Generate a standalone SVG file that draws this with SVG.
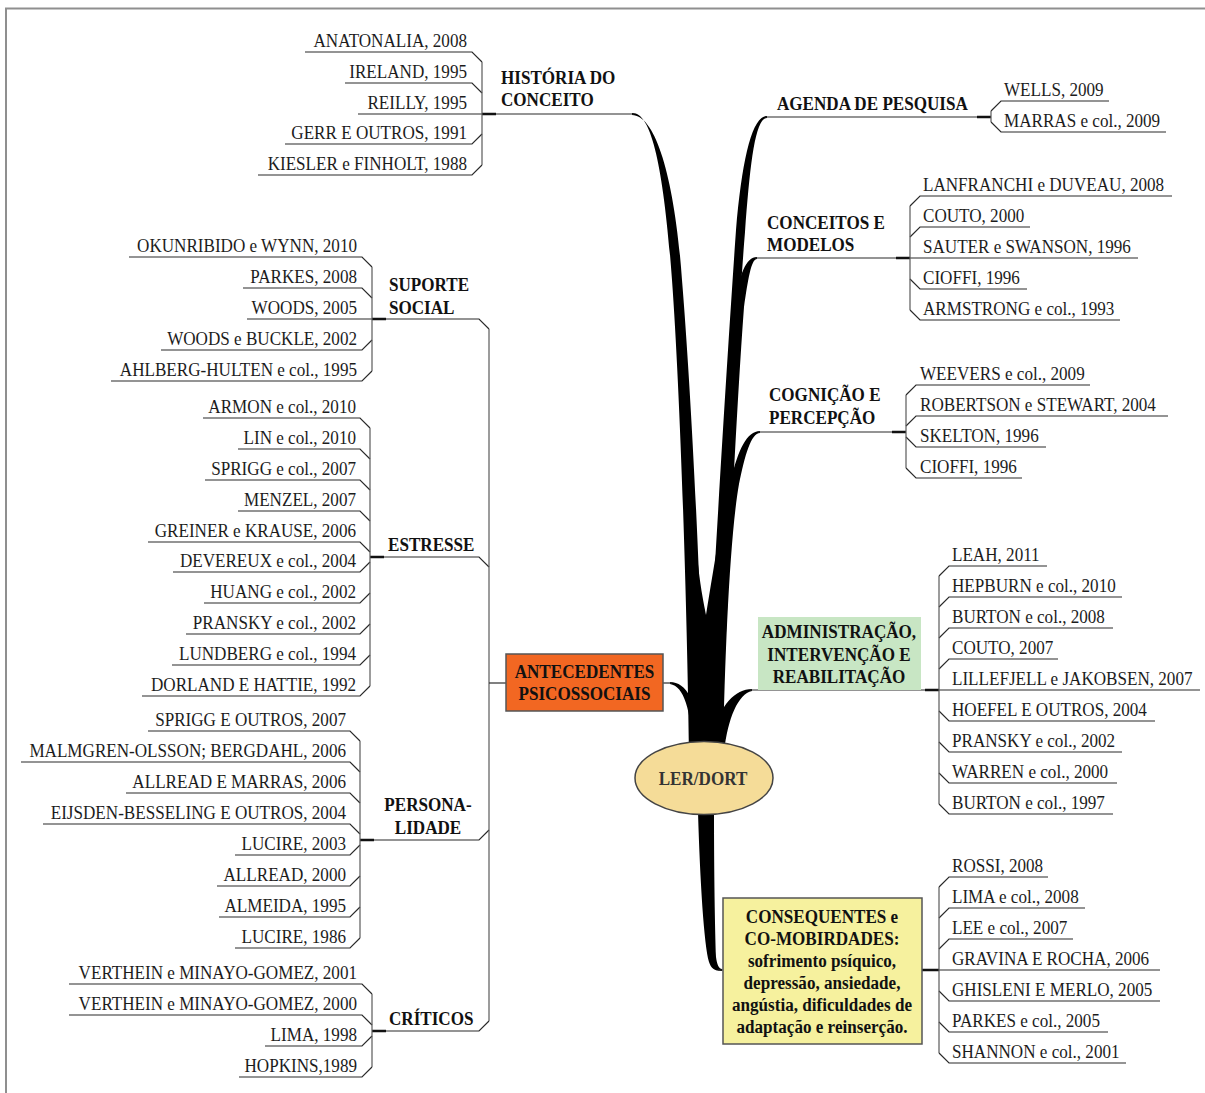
<svg xmlns="http://www.w3.org/2000/svg" width="1205" height="1093" viewBox="0 0 1205 1093">
<style>
text{font-family:"Liberation Serif","Times New Roman",serif;font-size:19px;fill:#1c1c1c;transform-box:fill-box}
.r{text-anchor:end;transform-origin:right center;transform:scaleX(.9)}
.l{text-anchor:start;transform-origin:left center;transform:scaleX(.9)}
.m{text-anchor:middle;transform-origin:center;transform:scaleX(.9)}
.b{font-weight:bold;fill:#111}
.ln{fill:none;stroke:#2a2a2a;stroke-width:1.2}
.br{fill:none;stroke:#5a5a5a;stroke-width:1.2}
.hv{fill:none;stroke:#111;stroke-width:2.4}
.tr{fill:#000}
.frame{fill:none;stroke:#8f8f8f;stroke-width:2}
</style>
<rect x="0" y="0" width="1205" height="1093" fill="#fff"/>
<path class="frame" d="M6,1093V8.5H1205"/>

<g id="connectors">
  <!-- tree branches -->
  <path class="tr" d="M632,113 C652,112 664,170 672,280 C680,390 687,600 689,752 L704,752 C702,600 691,390 682,280 C675,180 656,115 632,115 Z"/>
  <path class="tr" d="M767,116 C752,116 742,160 736,230 C729,330 712,600 705,752 L718,752 C723,600 737,330 745,232 C750,165 755,118 767,118 Z"/>
  <path class="tr" d="M757,257 C746,257 739,275 735,305 C728,400 716,620 710,752 L721,752 C726,620 737,400 744,307 C748,280 751,259 757,259 Z"/>
  <path class="tr" d="M760,431 C747,431 738,450 731,480 C722,530 716,650 713,752 L723,752 C725,650 730,535 739,484 C745,455 751,433 760,433 Z"/>
  <path class="tr" d="M691,752 L691,670 C692,630 694,600 697,555 C700,585 703,600 706,615 C710,590 715,560 720,530 C722,600 723,680 722,752 Z"/>
  <path class="tr" d="M752,689 C735,689 720,705 713,735 L712,752 L724,752 C728,718 738,694 752,691 Z"/>
  <path class="tr" d="M670,682 C686,682 698,700 703,752 L693,752 C691,710 684,686 670,684 Z"/>
  <path class="tr" d="M698,812 C700,880 704,945 709,962 C711,968 714,971 722,971 L722,969 C719,969 717,965 716,957 C715,930 714,870 714,812 Z"/>

  <!-- main topic lines -->
  <path class="ln" d="M482,114H634"/>
  <path class="ln" d="M765,117H991"/>
  <path class="ln" d="M755,258H910"/>
  <path class="ln" d="M758,432H906"/>
  <path class="ln" d="M750,690H939"/>
  <path class="ln" d="M663,683H672"/>
  <path class="ln" d="M718,970H723M922,970H939"/>
  <path class="hv" d="M482,114H496M977,117H991M896,258H910M892,432H906M925,690H939M922,970H939"/>

  <!-- left big bracket -->
  <path class="ln" d="M372,319H479L489,329"/>
  <path class="ln" d="M370,557H479L489,567"/>
  <path class="ln" d="M360,840H479L489,830"/>
  <path class="ln" d="M372,1031H479L489,1021"/>
  <path class="hv" d="M372,319H386M370,557H384M360,840H374M372,1031H386"/>
  <path class="br" d="M489,329V1021"/>
  <path class="ln" d="M489,683H506"/>

  <!-- HISTÓRIA -->
  <path class="ln" d="M305,52H472L482,62M345,83H472L482,93M358,114H482M285,144H472L482,134M258,175H472L482,165"/>
  <path class="br" d="M482,62V165"/>
  <!-- SUPORTE -->
  <path class="ln" d="M129,257H362L372,267M243,288H362L372,298M247,319H372M161,350H362L372,340M111,381H362L372,371"/>
  <path class="br" d="M372,267V371"/>
  <!-- ESTRESSE -->
  <path class="ln" d="M203,418H360L370,428M238,449H360L370,459M205,480H360L370,490M238,511H360L370,521M148,542H360L370,552M173,572H360L370,562M204,603H360L370,593M186,634H360L370,624M172,665H360L370,655M142,696H360L370,686"/>
  <path class="br" d="M370,428V686"/>
  <!-- PERSONALIDADE -->
  <path class="ln" d="M148,731H350L360,741M21,762H350L360,772M126,793H350L360,803M43,824H350L360,834M235,855H350L360,845M217,886H350L360,876M219,917H350L360,907M235,948H350L360,938"/>
  <path class="br" d="M360,741V938"/>
  <!-- CRÍTICOS -->
  <path class="ln" d="M69,984H362L372,994M69,1015H362L372,1025M265,1046H362L372,1036M239,1077H362L372,1067"/>
  <path class="br" d="M372,994V1067"/>
  <!-- AGENDA -->
  <path class="ln" d="M1109,101H1001L991,111M1166,132H1001L991,122"/>
  <path class="br" d="M991,111V122"/>
  <!-- CONCEITOS -->
  <path class="ln" d="M1172,196H920L910,206M1030,227H920L910,237M1138,258H910M1027,289H920L910,279M1120,320H920L910,310"/>
  <path class="br" d="M910,206V310"/>
  <!-- COGNIÇÃO -->
  <path class="ln" d="M1090,385H916L906,395M1168,416H916L906,426M1046,447H916L906,437M1022,478H916L906,468"/>
  <path class="br" d="M906,395V468"/>
  <!-- ADMINISTRAÇÃO -->
  <path class="ln" d="M1047,566H949L939,576M1122,597H949L939,607M1113,628H949L939,638M1058,659H949L939,669M1200,690H939M1155,721H949L939,711M1122,752H949L939,742M1117,783H949L939,773M1113,814H949L939,804"/>
  <path class="br" d="M939,576V804"/>
  <!-- CONSEQUENTES -->
  <path class="ln" d="M1048,877H949L939,887M1085,908H949L939,918M1073,939H949L939,949M1160,970H939M1160,1001H949L939,991M1108,1032H949L939,1022M1126,1063H949L939,1053"/>
  <path class="br" d="M939,887V1053"/>
</g>

<g id="root">
  <ellipse cx="704" cy="778" rx="69" ry="36.5" fill="#f5dc98" stroke="#444" stroke-width="1.5"/>
  <text class="m b" x="703" y="785" style="fill:#333">LER/DORT</text>
</g>

<g id="t-historia"><text class="l b" x="501" y="84">HISTÓRIA DO</text><text class="l b" x="501" y="106">CONCEITO</text></g>
<g id="t-suporte"><text class="l b" x="389" y="291">SUPORTE</text><text class="l b" x="389" y="314">SOCIAL</text></g>
<g id="t-estresse"><text class="l b" x="388" y="551">ESTRESSE</text></g>
<g id="t-personalidade"><text class="m b" x="428" y="811">PERSONA-</text><text class="m b" x="428" y="834">LIDADE</text></g>
<g id="t-criticos"><text class="l b" x="389" y="1025">CRÍTICOS</text></g>
<g id="t-agenda"><text class="l b" x="777" y="110">AGENDA DE PESQUISA</text></g>
<g id="t-conceitos"><text class="l b" x="767" y="229">CONCEITOS E</text><text class="l b" x="767" y="251">MODELOS</text></g>
<g id="t-cognicao"><text class="l b" x="769" y="401">COGNIÇÃO E</text><text class="l b" x="769" y="424">PERCEPÇÃO</text></g>

<g id="t-antecedentes">
  <rect x="506" y="654" width="157" height="57" fill="#f26722" stroke="#555" stroke-width="1.5"/>
  <text class="m b" x="584.5" y="678">ANTECEDENTES</text>
  <text class="m b" x="584.5" y="700">PSICOSSOCIAIS</text>
</g>
<g id="t-administracao">
  <rect x="758" y="617" width="163" height="73" fill="#c8e6c4"/>
  <text class="m b" x="839" y="638">ADMINISTRAÇÃO,</text>
  <text class="m b" x="839" y="661">INTERVENÇÃO E</text>
  <text class="m b" x="839" y="683">REABILITAÇÃO</text>
</g>
<g id="t-consequentes">
  <rect x="723" y="898" width="199" height="146" fill="#f6f19e" stroke="#555" stroke-width="1.5"/>
  <text class="m b" x="822" y="923">CONSEQUENTES e</text>
  <text class="m b" x="822" y="945">CO-MOBIRDADES:</text>
  <text class="m b" x="822" y="967">sofrimento psíquico,</text>
  <text class="m b" x="822" y="989">depressão, ansiedade,</text>
  <text class="m b" x="822" y="1011">angústia, dificuldades de</text>
  <text class="m b" x="822" y="1033">adaptação e reinserção.</text>
</g>

<g id="h1"><text class="r" x="467" y="47">ANATONALIA, 2008</text></g>
<g id="h2"><text class="r" x="467" y="78">IRELAND, 1995</text></g>
<g id="h3"><text class="r" x="467" y="109">REILLY, 1995</text></g>
<g id="h4"><text class="r" x="467" y="139">GERR E OUTROS, 1991</text></g>
<g id="h5"><text class="r" x="467" y="170">KIESLER e FINHOLT, 1988</text></g>

<g id="s1"><text class="r" x="357" y="252">OKUNRIBIDO e WYNN, 2010</text></g>
<g id="s2"><text class="r" x="357" y="283">PARKES, 2008</text></g>
<g id="s3"><text class="r" x="357" y="314">WOODS, 2005</text></g>
<g id="s4"><text class="r" x="357" y="345">WOODS e BUCKLE, 2002</text></g>
<g id="s5"><text class="r" x="357" y="376">AHLBERG-HULTEN e col., 1995</text></g>

<g id="e1"><text class="r" x="356" y="413">ARMON e col., 2010</text></g>
<g id="e2"><text class="r" x="356" y="444">LIN e col., 2010</text></g>
<g id="e3"><text class="r" x="356" y="475">SPRIGG e col., 2007</text></g>
<g id="e4"><text class="r" x="356" y="506">MENZEL, 2007</text></g>
<g id="e5"><text class="r" x="356" y="537">GREINER e KRAUSE, 2006</text></g>
<g id="e6"><text class="r" x="356" y="567">DEVEREUX e col., 2004</text></g>
<g id="e7"><text class="r" x="356" y="598">HUANG e col., 2002</text></g>
<g id="e8"><text class="r" x="356" y="629">PRANSKY e col., 2002</text></g>
<g id="e9"><text class="r" x="356" y="660">LUNDBERG e col., 1994</text></g>
<g id="e10"><text class="r" x="356" y="691">DORLAND E HATTIE, 1992</text></g>

<g id="p1"><text class="r" x="346" y="726">SPRIGG E OUTROS, 2007</text></g>
<g id="p2"><text class="r" x="346" y="757">MALMGREN-OLSSON; BERGDAHL, 2006</text></g>
<g id="p3"><text class="r" x="346" y="788">ALLREAD E MARRAS, 2006</text></g>
<g id="p4"><text class="r" x="346" y="819">EIJSDEN-BESSELING E OUTROS, 2004</text></g>
<g id="p5"><text class="r" x="346" y="850">LUCIRE, 2003</text></g>
<g id="p6"><text class="r" x="346" y="881">ALLREAD, 2000</text></g>
<g id="p7"><text class="r" x="346" y="912">ALMEIDA, 1995</text></g>
<g id="p8"><text class="r" x="346" y="943">LUCIRE, 1986</text></g>

<g id="c1"><text class="r" x="357" y="979">VERTHEIN e MINAYO-GOMEZ, 2001</text></g>
<g id="c2"><text class="r" x="357" y="1010">VERTHEIN e MINAYO-GOMEZ, 2000</text></g>
<g id="c3"><text class="r" x="357" y="1041">LIMA, 1998</text></g>
<g id="c4"><text class="r" x="357" y="1072">HOPKINS,1989</text></g>

<g id="a1"><text class="l" x="1004" y="96">WELLS, 2009</text></g>
<g id="a2"><text class="l" x="1004" y="127">MARRAS e col., 2009</text></g>

<g id="m1"><text class="l" x="923" y="191">LANFRANCHI e DUVEAU, 2008</text></g>
<g id="m2"><text class="l" x="923" y="222">COUTO, 2000</text></g>
<g id="m3"><text class="l" x="923" y="253">SAUTER e SWANSON, 1996</text></g>
<g id="m4"><text class="l" x="923" y="284">CIOFFI, 1996</text></g>
<g id="m5"><text class="l" x="923" y="315">ARMSTRONG e col., 1993</text></g>

<g id="g1"><text class="l" x="920" y="380">WEEVERS e col., 2009</text></g>
<g id="g2"><text class="l" x="920" y="411">ROBERTSON e STEWART, 2004</text></g>
<g id="g3"><text class="l" x="920" y="442">SKELTON, 1996</text></g>
<g id="g4"><text class="l" x="920" y="473">CIOFFI, 1996</text></g>

<g id="d1"><text class="l" x="952" y="561">LEAH, 2011</text></g>
<g id="d2"><text class="l" x="952" y="592">HEPBURN e col., 2010</text></g>
<g id="d3"><text class="l" x="952" y="623">BURTON e col., 2008</text></g>
<g id="d4"><text class="l" x="952" y="654">COUTO, 2007</text></g>
<g id="d5"><text class="l" x="952" y="685">LILLEFJELL e JAKOBSEN, 2007</text></g>
<g id="d6"><text class="l" x="952" y="716">HOEFEL E OUTROS, 2004</text></g>
<g id="d7"><text class="l" x="952" y="747">PRANSKY e col., 2002</text></g>
<g id="d8"><text class="l" x="952" y="778">WARREN e col., 2000</text></g>
<g id="d9"><text class="l" x="952" y="809">BURTON e col., 1997</text></g>

<g id="q1"><text class="l" x="952" y="872">ROSSI, 2008</text></g>
<g id="q2"><text class="l" x="952" y="903">LIMA e col., 2008</text></g>
<g id="q3"><text class="l" x="952" y="934">LEE e col., 2007</text></g>
<g id="q4"><text class="l" x="952" y="965">GRAVINA E ROCHA, 2006</text></g>
<g id="q5"><text class="l" x="952" y="996">GHISLENI E MERLO, 2005</text></g>
<g id="q6"><text class="l" x="952" y="1027">PARKES e col., 2005</text></g>
<g id="q7"><text class="l" x="952" y="1058">SHANNON e col., 2001</text></g>
</svg>
